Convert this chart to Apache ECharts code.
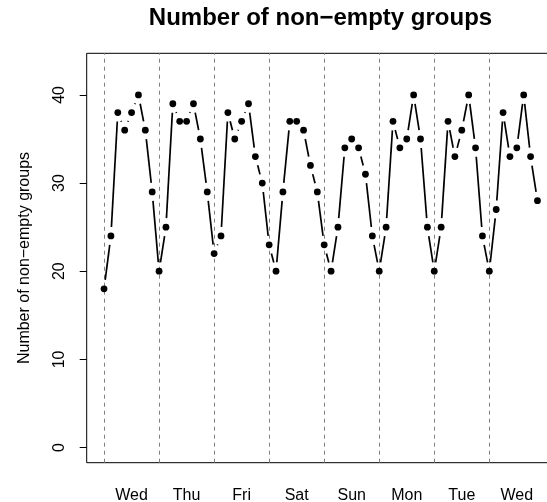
<!DOCTYPE html>
<html>
<head>
<meta charset="utf-8">
<script src="https://cdn.jsdelivr.net/npm/echarts@6/dist/echarts.min.js"></script>
<style>
html,body{margin:0;padding:0;background:#fff;}
#chart{width:547px;height:502px;}
</style>
</head>
<body>
<div id="chart"></div>
<script>
// Day labels (one per day, 8 readings per day, every 3 hours)
var dayLabels = ['Wed', 'Thu', 'Fri', 'Sat', 'Sun', 'Mon', 'Tue', 'Wed'];
var pointsPerDay = 8;
// Number of non-empty groups per reading
var groupCounts = [
  18, 24, 38, 36, 38, 40, 36, 29,
  20, 25, 39, 37, 37, 39, 35, 29,
  22, 24, 38, 35, 37, 39, 33, 30,
  23, 20, 29, 37, 37, 36, 32, 29,
  23, 20, 25, 34, 35, 34, 31, 24,
  20, 25, 37, 34, 35, 40, 35, 25,
  20, 25, 37, 33, 36, 40, 34, 24,
  20, 27, 38, 33, 34, 40, 33, 28
];
var yTicks = [0, 10, 20, 30, 40];

var FONT = '"Liberation Sans", Arial, Helvetica, sans-serif';
var pointData = groupCounts.map(function (v, i) { return [i, v]; });
var segmentData = [];
for (var i = 0; i < groupCounts.length - 1; i++) {
  segmentData.push([i, groupCounts[i], i + 1, groupCounts[i + 1]]);
}
var nPts = groupCounts.length;
var xPad = (nPts - 1) * 0.04;
var yMin = 0, yMax = 43, yPad = (yMax - yMin) * 0.04;
var dayStarts = dayLabels.map(function (d, i) { return i * pointsPerDay; });
var dayCenters = dayLabels.map(function (d, i) { return i * pointsPerDay + pointsPerDay / 2; });
var GAP = 9; // R type="b" gap around points (px)

function renderSegment(params, api) {
  var p1 = api.coord([api.value(0), api.value(1)]);
  var p2 = api.coord([api.value(2), api.value(3)]);
  var dx = p2[0] - p1[0], dy = p2[1] - p1[1];
  var L = Math.sqrt(dx * dx + dy * dy);
  if (L <= 2 * GAP) return null;
  var ux = dx / L, uy = dy / L;
  return {
    type: 'line',
    shape: {
      x1: p1[0] + ux * GAP, y1: p1[1] + uy * GAP,
      x2: p2[0] - ux * GAP, y2: p2[1] - uy * GAP
    },
    style: { stroke: '#000', lineWidth: 1.7 },
    silent: true
  };
}

var chart = echarts.init(document.getElementById('chart'), null, { renderer: 'canvas' });
chart.setOption({
  animation: false,
  backgroundColor: '#fff',
  title: {
    text: 'Number of non\u2212empty groups',
    left: 315.5,
    top: 1,
    textAlign: 'center',
    textStyle: { fontFamily: FONT, fontWeight: 'bold', fontSize: 24, color: '#000' }
  },
  grid: {
    left: 86.7, top: 53.3, width: 468.1, height: 409.4,
    outerBoundsMode: 'none',
    show: true, borderColor: '#000', borderWidth: 1, backgroundColor: 'transparent',
    containLabel: false
  },
  xAxis: {
    type: 'value',
    min: -xPad, max: nPts - 1 + xPad,
    splitLine: { show: false },
    axisLine: { show: false, onZero: false },
    axisTick: { show: false },
    axisLabel: {
      customValues: dayCenters,
      margin: 25,
      fontFamily: FONT, fontSize: 16, color: '#000',
      formatter: function (v) { return dayLabels[Math.round((v - pointsPerDay / 2) / pointsPerDay)]; }
    }
  },
  yAxis: {
    type: 'value',
    min: yMin - yPad, max: yMax + yPad,
    name: 'Number of non\u2212empty groups',
    nameLocation: 'middle',
    nameGap: 54.5,
    nameRotate: 90,
    nameTextStyle: { fontFamily: FONT, fontSize: 16, color: '#000' },
    splitLine: { show: false },
    axisLine: { show: false, onZero: false },
    axisTick: { show: true, customValues: yTicks, length: 7, inside: false, lineStyle: { color: '#000', width: 1 } },
    axisLabel: {
      customValues: yTicks,
      rotate: 90,
      margin: 19,
      fontFamily: FONT, fontSize: 16, color: '#000'
    }
  },
  series: [{
    type: 'custom',
    data: segmentData,
    renderItem: renderSegment,
    encode: { x: [0, 2], y: [1, 3] },
    silent: true,
    z: 2
  }, {
    type: 'scatter',
    data: pointData,
    silent: true,
    symbol: 'circle',
    symbolSize: 6.8,
    itemStyle: { color: '#000', opacity: 1 },
    z: 3,
    markLine: {
      silent: true,
      symbol: ['none', 'none'],
      label: { show: false },
      lineStyle: { color: '#808080', type: [4, 4], width: 1 },
      data: dayStarts.map(function (d) { return { xAxis: d }; }),
      z: 1
    }
  }]
});
</script>
</body>
</html>
